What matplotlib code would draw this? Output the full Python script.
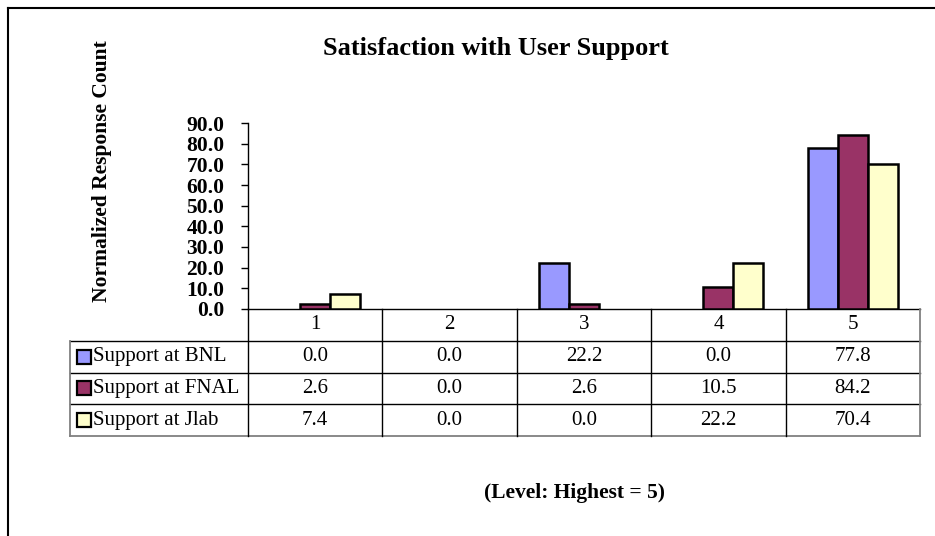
import numpy as np
import matplotlib
matplotlib.use("Agg")
import matplotlib.pyplot as plt
from matplotlib.lines import Line2D

# data
levels = ['1', '2', '3', '4', '5']
series_names = ['Support at BNL', 'Support at FNAL', 'Support at Jlab']
bnl = [0.0, 0.0, 22.2, 0.0, 77.8]
fnal = [2.6, 0.0, 2.6, 10.5, 84.2]
jlab = [7.4, 0.0, 0.0, 22.2, 70.4]
colors = ['#9999FF', '#993366', '#FFFFCC']
yticks = [0, 10, 20, 30, 40, 50, 60, 70, 80, 90]

plt.rcParams['font.family'] = ['Liberation Serif', 'DejaVu Serif']

W, H = 935, 536
fig = plt.figure(figsize=(W/100, H/100), dpi=100)

def fx(x):
    return x/W
def fy(y):
    return 1 - y/H

# outer frame (only left/top edges visible in the picture)
fig.add_artist(Line2D([fx(8), fx(8)], [fy(8), -0.1], color='black', lw=1.5))
fig.add_artist(Line2D([fx(8), 1.1], [fy(8), fy(8)], color='black', lw=1.5))

# bar axes
x_left, x_right, y_top, y_bot = 248, 920, 123, 309
ax = fig.add_axes([fx(x_left), fy(y_bot), (x_right - x_left)/W, (y_bot - y_top)/H])
ax.set_xlim(-0.5, len(levels) - 0.5)
ax.set_ylim(0, 90)

xs = np.arange(len(levels))
bw = 0.223
all_series = [bnl, fnal, jlab]
for k in range(3):
    vals = np.array(all_series[k])
    nz = vals > 0   # excel draws nothing for zero values
    ax.bar(xs[nz] + (k - 1)*bw, vals[nz], width=bw, color=colors[k],
           edgecolor='black', linewidth=1.8, zorder=3)

for s in ['top', 'right']:
    ax.spines[s].set_visible(False)
ax.spines['left'].set_linewidth(1.0)
ax.spines['bottom'].set_linewidth(1.0)
ax.set_xticks([])
ax.set_yticks(yticks)
ax.set_yticklabels(['%.1f' % t for t in yticks], fontweight='bold', fontsize=15.5)
ax.tick_params(axis='y', direction='out', length=5, width=1, pad=12)

# data table underneath
cell_w = (x_right - x_left)/len(levels)
tab_left = 70
tab_bot = 436
tax = fig.add_axes([fx(tab_left), fy(tab_bot), (x_right - tab_left)/W, (tab_bot - y_bot)/H])
x0 = -0.5 - (x_left - tab_left)/cell_w
tax.set_xlim(x0, len(levels) - 0.5)
tax.set_ylim(4, 0)
tax.axis('off')

grey = '#808080'
for r in [1, 2, 3]:
    tax.plot([x0, 4.5], [r, r], color='black', lw=1, clip_on=False)
tax.plot([x0, 4.5], [4, 4], color=grey, lw=1.3, clip_on=False)
for c in [-0.5, 0.5, 1.5, 2.5, 3.5]:
    tax.plot([c, c], [0, 4], color='black', lw=1, clip_on=False)
tax.plot([4.5, 4.5], [0, 4], color=grey, lw=1.3, clip_on=False)
tax.plot([x0, x0], [1, 4], color=grey, lw=1.3, clip_on=False)

for i, lab in enumerate(levels):
    tax.text(i, 0.5, lab, ha='center', va='center', fontsize=15)
for k in range(3):
    row = k + 1.5
    kx = x0 + 14/cell_w
    tax.plot([kx], [row], marker='s', ms=9.5, mfc=colors[k], mec='black', mew=1.6, clip_on=False)
    tax.text(x0 + 23/cell_w, row, series_names[k], ha='left', va='center', fontsize=15)
    for i in range(len(levels)):
        tax.text(i, row, '%.1f' % all_series[k][i], ha='center', va='center', fontsize=15)

# titles
fig.text(fx(496), fy(48), 'Satisfaction with User Support', ha='center', va='center',
         fontsize=19, fontweight='bold')
fig.text(fx(102), fy(171), 'Normalized Response Count', ha='center', va='center',
         rotation=90, fontsize=15.5, fontweight='bold')
fig.text(fx(574), fy(493), '(Level: Highest = 5)', ha='center', va='center',
         fontsize=15.5, fontweight='bold')

fig.savefig('out.png', dpi=100)
